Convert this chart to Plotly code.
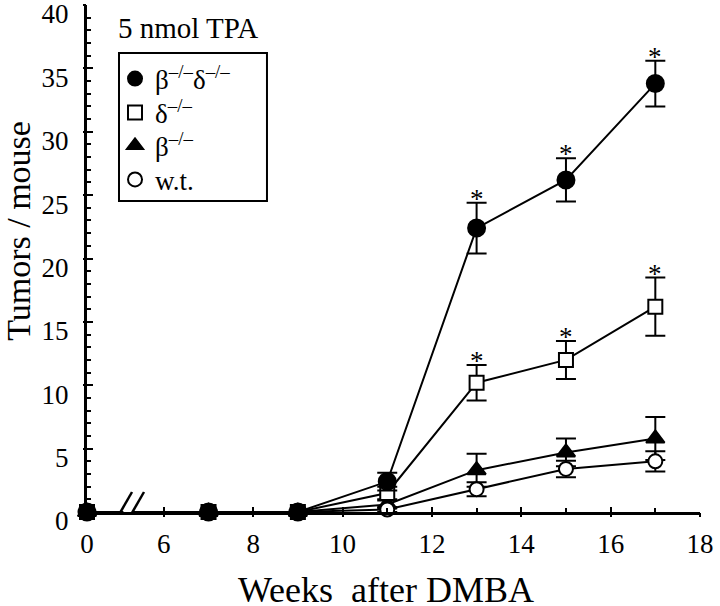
import plotly.graph_objects as go

# ---------------- data ----------------
weeks = [0, 7, 9, 11, 13, 15, 17]
x_tick_weeks = [0, 6, 8, 10, 12, 14, 16, 18]
x_minor_weeks = [7, 9, 11, 13, 15, 17]
y_ticks = [0, 5, 10, 15, 20, 25, 30, 35, 40]

bd_vals = [0, 0, 0, 2.4, 22.4, 26.2, 33.8]          # beta-/- delta-/-
bd_err = [None, None, None, 0.7, 2.0, 1.7, 1.8]
d_vals = [0, 0, 0, 1.5, 10.2, 12.0, 16.2]           # delta-/-
d_err = [None, None, None, 0.5, 1.4, 1.5, 2.3]
b_vals = [0, 0, 0, 0.6, 3.3, 4.7, 5.8]              # beta-/-
b_err = [None, None, None, 0.3, 1.3, 1.1, 1.7]
wt_vals = [0, 0, 0, 0.2, 1.8, 3.4, 4.0]             # wild type
wt_err = [None, None, None, 0.2, 0.55, 0.65, 0.8]

bd_sig_weeks = [13, 15, 17]
d_sig_weeks = [13, 15, 17]

legend_names = ["β<sup>–/–</sup>δ<sup>–/–</sup>", "δ<sup>–/–</sup>",
                "β<sup>–/–</sup>", "w.t."]

# axis break: week 0 is drawn at this position of the (broken) axis
ZERO_POS = 4.28
BREAK_A = 5.075
BREAK_B = 5.343

def xpos(w):
    return ZERO_POS if w == 0 else w

xd = [xpos(w) for w in weeks]
FONT = "Liberation Serif"

fig = go.Figure()

def add_series(vals, err, symbol, size, fill):
    fig.add_trace(go.Scatter(
        x=xd, y=vals, mode="lines+markers", showlegend=False, cliponaxis=False,
        line=dict(color="black", width=2),
        marker=dict(symbol=symbol, size=size, color=fill,
                    line=dict(color="black", width=2)),
        error_y=dict(type="data", array=err, visible=True, color="black",
                     thickness=2, width=10),
    ))

add_series(b_vals, b_err, "triangle-up", 16, "black")
add_series(wt_vals, wt_err, "circle", 14, "white")
add_series(d_vals, d_err, "square", 14, "white")
add_series(bd_vals, bd_err, "circle", 17, "black")

# legend-only entries, one small legend each so the row spacing can follow the original
legend_styles = [("circle", "black"), ("square", "white"),
                 ("triangle-up", "black"), ("circle", "white")]
legend_rows_y = [0.854, 0.787, 0.722, 0.655]
legend_layout = {}
for k, (name, (sym, fill), ly) in enumerate(zip(legend_names, legend_styles, legend_rows_y)):
    lid = "legend" if k == 0 else f"legend{k + 1}"
    fig.add_trace(go.Scatter(
        x=[None], y=[None], mode="markers", name=name, legend=lid,
        marker=dict(symbol=sym, size=14, color=fill, line=dict(color="black", width=2)),
    ))
    legend_layout[lid] = dict(x=0.0457, y=ly, xanchor="left", yanchor="middle",
                              bgcolor="rgba(0,0,0,0)", borderwidth=0,
                              font=dict(family=FONT, size=27, color="black"),
                              itemwidth=30)

# overlay axes only for the outward half of crossing major ticks
fig.add_trace(go.Scatter(x=[None], y=[None], xaxis="x2", yaxis="y2",
                         showlegend=False, hoverinfo="skip"))

annotations = []
def star(week, val, err):
    i = weeks.index(week)
    annotations.append(dict(x=xpos(week), y=val[i] + err[i], xref="x", yref="y",
                            text="*", showarrow=False, yanchor="bottom", yshift=-13,
                            font=dict(family=FONT, size=27, color="black")))
for w in bd_sig_weeks:
    star(w, bd_vals, bd_err)
for w in d_sig_weeks:
    star(w, d_vals, d_err)

annotations += [
    dict(text="5 nmol TPA", x=0.047, y=0.955, xref="paper", yref="paper",
         xanchor="left", yanchor="middle", showarrow=False,
         font=dict(family=FONT, size=29, color="black")),
    dict(text="Tumors / mouse", x=-0.113, y=0.554, xref="paper", yref="paper",
         textangle=-90, showarrow=False, xanchor="center", yanchor="middle",
         font=dict(family=FONT, size=34, color="black")),
    dict(text="Weeks\u00a0\u00a0after DMBA", x=0.488, y=-0.154, xref="paper", yref="paper",
         showarrow=False, xanchor="center", yanchor="middle",
         font=dict(family=FONT, size=36, color="black")),
]

shapes = [
    # gap in the axis line
    dict(type="rect", xref="x", yref="y", x0=BREAK_A + 0.02, x1=BREAK_B - 0.02,
         ysizemode="pixel", yanchor=0, y0=-5, y1=5,
         fillcolor="white", line=dict(width=0), layer="above"),
    # legend frame
    dict(type="rect", xref="paper", yref="paper", x0=0.0522, x1=0.2936,
         y0=0.6134, y1=0.9053, fillcolor="white",
         line=dict(color="black", width=2), layer="above"),
]
for bx in (BREAK_A, BREAK_B):
    shapes.append(dict(type="line", xref="x", yref="y",
                       xsizemode="pixel", xanchor=bx, x0=-9.5, x1=9.5,
                       ysizemode="pixel", yanchor=0, y0=-13, y1=20,
                       line=dict(color="black", width=2.5), layer="above"))

tickfont = dict(family=FONT, size=27, color="black")
x_tickvals = [xpos(w) for w in x_tick_weeks]
x_ticktext = [str(w) for w in x_tick_weeks]

fig.update_layout(
    width=720, height=606,
    margin=dict(l=87, r=20, t=5, b=94, autoexpand=False),
    plot_bgcolor="white", paper_bgcolor="white",
    showlegend=True,
    **legend_layout,
    xaxis=dict(range=[ZERO_POS, 18], tickmode="array", tickvals=x_tickvals,
               ticktext=x_ticktext, ticks="inside", ticklen=5, tickwidth=2,
               tickcolor="black", showline=True, linewidth=3, linecolor="black",
               showgrid=False, zeroline=False, tickfont=tickfont, automargin=False,
               ticklabelstandoff=6, ticklabeloverflow="allow",
               minor=dict(tickmode="array", tickvals=x_minor_weeks, ticks="inside",
                          ticklen=4, tickwidth=2, tickcolor="black", showgrid=False)),
    yaxis=dict(range=[0, 40], tickmode="array", tickvals=y_ticks,
               ticks="inside", ticklen=6, tickwidth=2, tickcolor="black",
               showline=True, linewidth=3, linecolor="black",
               showgrid=False, zeroline=False, tickfont=tickfont, automargin=False,
               ticklabelshift=9,
               ticklabelstandoff=10, ticklabeloverflow="allow",
               minor=dict(dtick=1, ticks="inside", ticklen=4, tickwidth=2,
                          tickcolor="black", showgrid=False)),
    xaxis2=dict(overlaying="x", matches="x", anchor="y", side="bottom",
                tickmode="array", tickvals=x_tickvals[1:], ticks="outside",
                ticklen=4, tickwidth=2, tickcolor="black", showticklabels=False,
                showline=False, showgrid=False, zeroline=False, automargin=False),
    yaxis2=dict(overlaying="y", matches="y", anchor="x", side="left",
                tickmode="array", tickvals=y_ticks, ticks="outside",
                ticklen=3, tickwidth=2, tickcolor="black", showticklabels=False,
                showline=False, showgrid=False, zeroline=False, automargin=False),
    annotations=annotations,
    shapes=shapes,
)

fig.write_html("out.html", config={"displayModeBar": False},
               post_script="document.body.style.margin='0px';document.body.style.padding='0px';")
